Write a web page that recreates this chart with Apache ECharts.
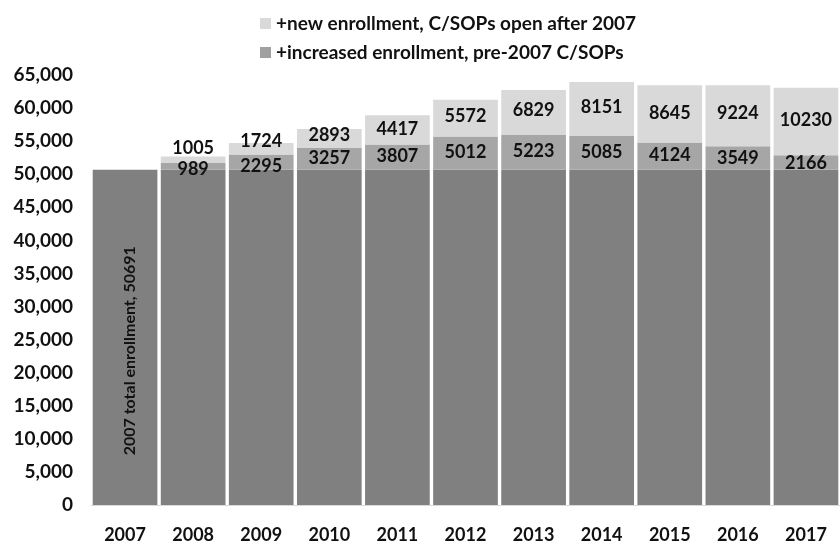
<!DOCTYPE html>
<html><head><meta charset="utf-8">
<script src="https://cdn.jsdelivr.net/npm/echarts@6/dist/echarts.min.js"></script>
<style>html,body{margin:0;padding:0;background:#fff}#c{width:840px;height:544px}</style>
</head><body><div id="c"></div>
<script>
const years = ['2007','2008','2009','2010','2011','2012','2013','2014','2015','2016','2017'];
const baseEnrollment = [50691,50691,50691,50691,50691,50691,50691,50691,50691,50691,50691];
const increasedEnrollment = [null,989,2295,3257,3807,5012,5223,5085,4124,3549,2166];
const newEnrollment = [null,1005,1724,2893,4417,5572,6829,8151,8645,9224,10230];
const yTicks = [0,5000,10000,15000,20000,25000,30000,35000,40000,45000,50000,55000,60000,65000];

const FONT = 'Lato';
const newShift = [0,-12,-8,-3,-1,-2,-2,-2,-1,-2,-1];
const incShift = [0,3,4,-1,-1,-1,-1,-1,-1,0,1];

const chart = echarts.init(document.getElementById('c'), null, {renderer:'canvas'});
chart.setOption({
  backgroundColor:'#fff',
  animation:false,
  textStyle:{fontFamily:FONT, fontWeight:'bold', color:'#000'},
  legend:{
    orient:'vertical', left:255, top:9, itemGap:10,
    itemWidth:11, itemHeight:11, icon:'rect',
    textStyle:{fontFamily:FONT, fontWeight:'bold', fontSize:19, color:'#111'},
    data:[
      {name:'+new enrollment, C/SOPs open after 2007', itemStyle:{color:'#d9d9d9'}},
      {name:'+increased enrollment, pre-2007 C/SOPs', itemStyle:{color:'#a0a0a0'}}
    ]
  },
  grid:{left:91, right:-4, top:75, bottom:38},
  xAxis:{
    type:'category', data:years,
    axisLine:{lineStyle:{color:'#d9d9d9', width:1}},
    axisTick:{show:false},
    axisLabel:{fontFamily:FONT, fontWeight:'bold', fontSize:18, color:'#111', margin:21}
  },
  yAxis:{
    type:'value', min:0, max:65000, interval:5000,
    axisLine:{show:false}, axisTick:{show:false}, splitLine:{show:false},
    axisLabel:{fontFamily:FONT, fontWeight:'bold', fontSize:19, color:'#111', margin:18,
      formatter:v=>yTicks.includes(v)?v.toLocaleString('en-US'):''}
  },
  series:[
    {name:'base', type:'bar', stack:'t', barCategoryGap:'5%',
     itemStyle:{color:'#808080'},
     data: baseEnrollment.map((v,i)=> i===0 ? {value:v, label:{show:true, rotate:90, position:['57%','54%'],
        align:'center', verticalAlign:'middle',
        formatter:'2007 total enrollment, {c}', fontSize:16, fontWeight:'bold', color:'#111', fontFamily:FONT}} : v)
    },
    {name:'+increased enrollment, pre-2007 C/SOPs', type:'bar', stack:'t',
     itemStyle:{color:'#a6a6a6'},
     label:{show:true, position:'inside', fontFamily:FONT, fontWeight:'bold', fontSize:18, color:'#111'},
     data: increasedEnrollment.map((v,i)=>({value:v, label:{offset:[0,incShift[i]]}}))
    },
    {name:'+new enrollment, C/SOPs open after 2007', type:'bar', stack:'t',
     itemStyle:{color:'#d9d9d9'},
     label:{show:true, position:'inside', fontFamily:FONT, fontWeight:'bold', fontSize:18, color:'#111'},
     data: newEnrollment.map((v,i)=>({value:v, label:{offset:[0,newShift[i]]}}))
    }
  ]
});
</script></body></html>
